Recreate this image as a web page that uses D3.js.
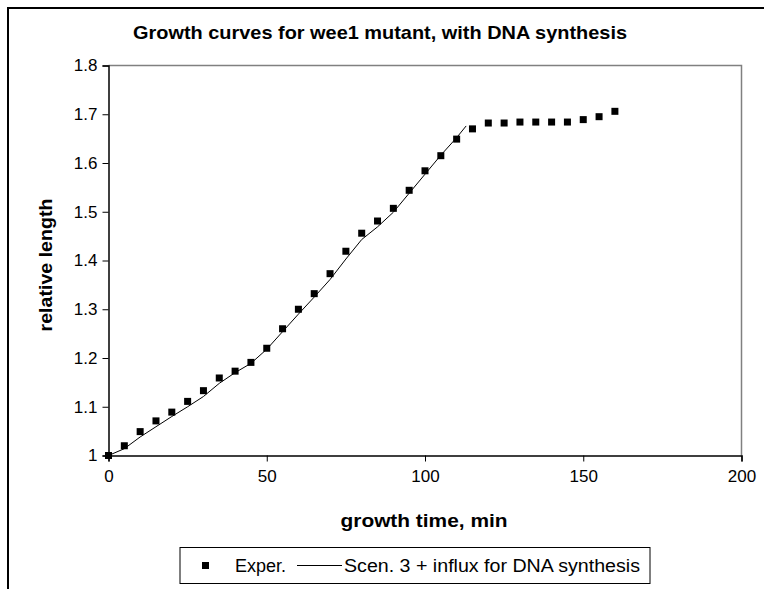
<!DOCTYPE html>
<html>
<head>
<meta charset="utf-8">
<script src="https://cdn.jsdelivr.net/npm/d3@7/dist/d3.min.js"></script>
<style>
	body { margin: 0; background: #fff; }
	svg text { font-family: "Liberation Sans", Arial, sans-serif; fill: #000; }
</style>
</head>
<body>
<div id="chart"></div>
<script>

	/* - - - DATA - - - */

	var expTime = [0, 5, 10, 15, 20, 25, 30, 35, 40, 45, 50, 55, 60, 65, 70, 75, 80,
		85, 90, 95, 100, 105, 110, 115, 120, 125, 130, 135, 140, 145, 150, 155, 160];
	var expLength = [1.000, 1.020, 1.049, 1.071, 1.089, 1.111, 1.133, 1.159, 1.173, 1.191,
		1.220, 1.260, 1.300, 1.332, 1.373, 1.419, 1.456, 1.481, 1.507, 1.544, 1.584,
		1.615, 1.649, 1.670, 1.682, 1.682, 1.684, 1.684, 1.684, 1.684, 1.689, 1.695, 1.706];

	var simTime = [0, 5, 10, 15, 20, 25, 30, 35, 40, 45, 50, 55, 60, 65, 70, 75, 80,
		85, 90, 95, 100, 105, 110, 113];
	var simLength = [1.000, 1.014, 1.038, 1.059, 1.080, 1.100, 1.121, 1.148, 1.170, 1.189,
		1.218, 1.254, 1.290, 1.325, 1.361, 1.403, 1.443, 1.469, 1.499, 1.538, 1.577,
		1.616, 1.652, 1.676];

	var xTicks = [0, 50, 100, 150, 200];
	var yTicks = [1, 1.1, 1.2, 1.3, 1.4, 1.5, 1.6, 1.7, 1.8];

	var titleText = "Growth curves for wee1 mutant, with DNA synthesis";
	var xLabel = "growth time, min";
	var yLabel = "relative length";
	var legendNames = ["Exper.", "Scen. 3 + influx for DNA synthesis"];

	/* - - - END DATA - - - */

	var svgWidth = 764;
	var svgHeight = 589;
	var plot = { left: 108.5, top: 65.5, right: 741.5, bottom: 455.5 };

	var svg = d3.select('#chart')
				.append('svg')
				.attr('width', svgWidth)
				.attr('height', svgHeight);

	// chart frame (cut off at right and bottom in the original)
	svg.append('rect')
	   .attr('x', 8).attr('y', 8)
	   .attr('width', 900).attr('height', 800)
	   .attr('fill', 'none')
	   .attr('stroke', '#000')
	   .attr('stroke-width', 2);

	var x = d3.scaleLinear().domain([0, 200]).range([plot.left, plot.right]);
	var y = d3.scaleLinear().domain([1, 1.8]).range([plot.bottom, plot.top]);

	// plot area border (grey top / right)
	svg.append('path')
	   .attr('d', 'M' + plot.left + ',' + plot.top + 'H' + plot.right + 'V' + plot.bottom)
	   .attr('fill', 'none')
	   .attr('stroke', '#808080')
	   .attr('stroke-width', 1.5);

	/* - - - AXES - - - */

	var xAxis = svg.append('g')
		.attr('transform', 'translate(0,' + plot.bottom + ')')
		.call(d3.axisBottom(x).tickValues(xTicks).tickSize(6).tickPadding(6)
			.tickFormat(d3.format('d')));

	var yAxis = svg.append('g')
		.attr('transform', 'translate(' + plot.left + ',0)')
		.call(d3.axisLeft(y).tickValues(yTicks).tickSize(6).tickPadding(5)
			.tickFormat(function (d) { return d === 1 ? '1' : d3.format('.1f')(d); }));

	[xAxis, yAxis].forEach(function (g) {
		g.selectAll('path.domain').attr('stroke', '#000').attr('stroke-width', 1.5);
		g.selectAll('line').attr('stroke', '#000');
		g.selectAll('text').attr('font-size', 17).attr('fill', '#000')
		 .style('font-family', '"Liberation Sans", Arial, sans-serif');
	});
	xAxis.selectAll('text').attr('dy', '0.85em');

	/* - - - SERIES - - - */

	var simPts = simTime.map(function (t, i) { return [t, simLength[i]]; });
	var line = d3.line()
		.x(function (d) { return x(d[0]); })
		.y(function (d) { return y(d[1]); });

	svg.append('path')
	   .datum(simPts)
	   .attr('d', line)
	   .attr('fill', 'none')
	   .attr('stroke', '#000')
	   .attr('stroke-width', 1);

	var mk = 7;
	svg.selectAll('rect.exp')
	   .data(expTime)
	   .enter()
	   .append('rect')
	   .attr('class', 'exp')
	   .attr('x', function (d) { return x(d) - mk / 2; })
	   .attr('y', function (d, i) { return y(expLength[i]) - mk / 2; })
	   .attr('width', mk)
	   .attr('height', mk)
	   .attr('fill', '#000');

	/* - - - TITLES - - - */

	svg.append('text')
	   .attr('x', 380).attr('y', 39)
	   .attr('text-anchor', 'middle')
	   .attr('font-size', 19)
	   .attr('font-weight', 'bold')
	   .attr('textLength', 494)
	   .attr('lengthAdjust', 'spacingAndGlyphs')
	   .text(titleText);

	svg.append('text')
	   .attr('x', 424).attr('y', 527)
	   .attr('text-anchor', 'middle')
	   .attr('font-size', 18)
	   .attr('font-weight', 'bold')
	   .attr('textLength', 167)
	   .attr('lengthAdjust', 'spacingAndGlyphs')
	   .text(xLabel);

	svg.append('text')
	   .attr('transform', 'translate(52,265) rotate(-90)')
	   .attr('text-anchor', 'middle')
	   .attr('font-size', 18)
	   .attr('font-weight', 'bold')
	   .attr('textLength', 133)
	   .attr('lengthAdjust', 'spacingAndGlyphs')
	   .text(yLabel);

	/* - - - LEGEND - - - */

	var legend = svg.append('g');
	legend.append('rect')
		  .attr('x', 180).attr('y', 547.5)
		  .attr('width', 470).attr('height', 36)
		  .attr('fill', '#fff')
		  .attr('stroke', '#000')
		  .attr('stroke-width', 1);
	legend.append('rect')
		  .attr('x', 202).attr('y', 562)
		  .attr('width', mk).attr('height', mk)
		  .attr('fill', '#000');
	legend.append('text')
		  .attr('x', 235).attr('y', 572)
		  .attr('font-size', 18)
		  .text(legendNames[0]);
	legend.append('line')
		  .attr('x1', 297).attr('x2', 342)
		  .attr('y1', 565.5).attr('y2', 565.5)
		  .attr('stroke', '#000').attr('stroke-width', 1);
	legend.append('text')
		  .attr('x', 344).attr('y', 572)
		  .attr('font-size', 18)
		  .attr('textLength', 296)
		  .attr('lengthAdjust', 'spacingAndGlyphs')
		  .text(legendNames[1]);

</script>
</body>
</html>
